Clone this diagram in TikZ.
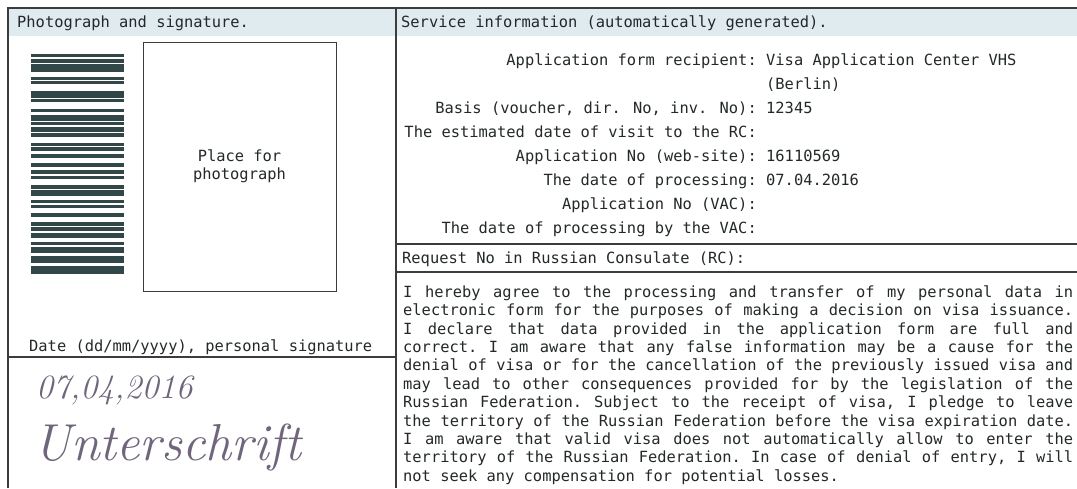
\documentclass[tikz,border=0pt]{standalone}
\usepackage{fontspec}
\newfontfamily\formfont{DejaVu Sans Mono}
\definecolor{ink}{RGB}{35,40,40}
\definecolor{linecol}{RGB}{60,60,60}
\definecolor{headfill}{RGB}{224,235,240}
\definecolor{barcol}{RGB}{50,72,72}
\definecolor{handink}{RGB}{112,102,124}
\tikzset{
  formtext/.style={font=\formfont\fontsize{15.4}{18.4}\selectfont,text=ink,inner sep=0pt},
  fieldname/.style={formtext,anchor=base east},
  fieldvalue/.style={formtext,anchor=base west},
  rule/.style={draw=linecol,line width=1.1pt},
  hand/.style={text=handink,inner sep=0pt,anchor=base west}
}

\begin{document}
\begin{tikzpicture}[x=1pt,y=-1pt]
    \useasboundingbox (0,0) rectangle (1077,488);
    \clip (0,0) rectangle (1077,488);
    \fill[white] (0,0) rectangle (1077,488);
    % frame
    \fill[headfill] (8,8) rectangle (1077,36);
    \draw[rule] (8,488)--(8,8)--(1077,8);
    \draw[rule] (396,8)--(396,488);
    \draw[rule] (8,357)--(396,357);
    \draw[rule] (396,244)--(1077,244);
    \draw[rule] (396,272)--(1077,272);
    \node[formtext,anchor=base west] (headphoto) at (17,27) {Photograph and signature.};
    \node[formtext,anchor=base west] (headservice) at (401,27) {Service information (automatically generated).};
    % barcode
    \foreach \y/\h in {54/2.5,58.5/4,64/7.5,76.5/3,81/3,90.5/7,99/3,108.5/3,114.5/6,122/3,127/4.5,133/3.5,
        142.5/3,147/3.5,153.5/4,162.5/4,169.5/4,175.5/3,184.5/4,189.5/6,199.5/3,204.5/3,212.5/4,221.5/4,226.5/4,
        232.5/5,241.5/3,246.5/6,255.5/7,265.5/3,269/4.5}
        \fill[barcol] (31,\y) rectangle (124,\y+\h);
    \node[draw=linecol,line width=1pt,minimum width=193pt,minimum height=249pt,
        formtext,align=center] (photo) at (239.5,166.5) {Place for\\photograph};
    \node[formtext,anchor=base west] (datelabel) at (29,351) {Date (dd/mm/yyyy), personal signature};
    \node[hand,font=\itshape\fontsize{34}{34}\selectfont] (handdate) at (36,398) {07,04,2016};
    \node[hand,font=\itshape\fontsize{52}{52}\selectfont] (handsign) at (33,460) {Unterschrift};
    % service fields
    \node[fieldname] (recipient) at (757,65) {Application form recipient:};
    \node[fieldvalue] (recipientval) at (766,65) {Visa Application Center VHS};
    \node[fieldvalue] (berlin) at (766,89) {(Berlin)};
    \node[fieldname] (basis) at (757,113) {Basis (voucher, dir. No, inv. No):};
    \node[fieldvalue] (basisval) at (766,113) {12345};
    \node[fieldname] (visit) at (757,137) {The estimated date of visit to the RC:};
    \node[fieldname] (webno) at (757,161) {Application No (web-site):};
    \node[fieldvalue] (webnoval) at (766,161) {16110569};
    \node[fieldname] (procdate) at (757,185) {The date of processing:};
    \node[fieldvalue] (procdateval) at (766,185) {07.04.2016};
    \node[fieldname] (vacno) at (757,209) {Application No (VAC):};
    \node[fieldname] (vacdate) at (757,233) {The date of processing by the VAC:};
    \node[formtext,anchor=base west] (request) at (402,263) {Request No in Russian Consulate (RC):};
    \node[formtext,anchor=north west,text width=670pt,align=justify] (consent) at (403,285.3)
    {\spaceskip=\fontdimen2\font plus 1.5em\relax\frenchspacing\tolerance=9999\hbadness=10000
    I hereby agree to the processing and transfer of my personal data in\linebreak
    electronic form for the purposes of making a decision on visa issuance.\linebreak
    I declare that data provided in the application form are full and\linebreak
    correct. I am aware that any false information may be a cause for the\linebreak
    denial of visa or for the cancellation of the previously issued visa and\linebreak
    may lead to other consequences provided for by the legislation of the\linebreak
    Russian Federation. Subject to the receipt of visa, I pledge to leave\linebreak
    the territory of the Russian Federation before the visa expiration date.\linebreak
    I am aware that valid visa does not automatically allow to enter the\linebreak
    territory of the Russian Federation. In case of denial of entry, I will\linebreak
    not seek any compensation for potential losses.};
\end{tikzpicture}
\end{document}
